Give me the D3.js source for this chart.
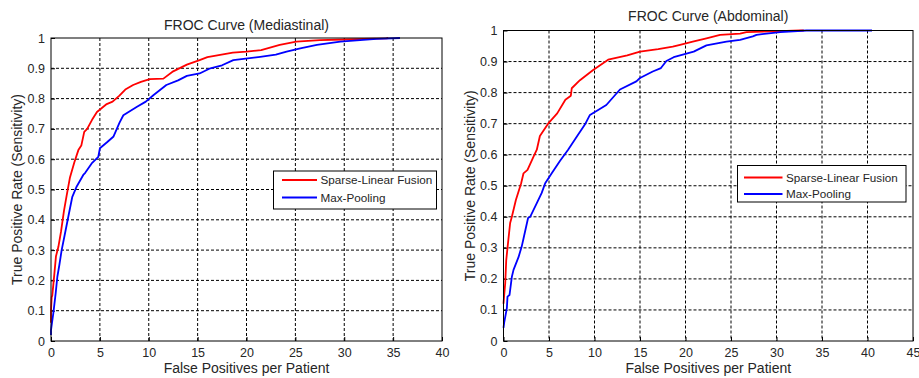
<!DOCTYPE html>
<html>
<head>
<meta charset="utf-8">
<script src="https://cdn.jsdelivr.net/npm/d3@7"></script>
<style>
    body { margin: 0; background: white; }
    text { font-family: "Liberation Sans", Arial, sans-serif; fill: #262626; }
</style>
</head>
<body>
<div id="chart"></div>
<script>
'use strict';

// Mediastinal panel: [false positives per patient, sensitivity]
var medFusion = [[0,0.06],[0,0.1],[0.07,0.145],[0.13,0.15],[0.31,0.21],[0.51,0.28],[0.75,0.31],[1.02,0.36],
    [1.33,0.43],[1.6,0.48],[1.94,0.54],[2.39,0.59],[2.8,0.63],[3.1,0.645],[3.4,0.69],[3.7,0.70],[4.2,0.73],
    [4.7,0.756],[5.7,0.782],[6.3,0.79],[7.0,0.81],[7.6,0.83],[8.4,0.845],[9.2,0.855],[10.1,0.864],[11.5,0.866],
    [12.5,0.89],[13.9,0.912],[15.2,0.927],[16,0.937],[18.6,0.952],[20,0.955],[21.5,0.96],[23.4,0.977],
    [25.1,0.988],[27.5,0.993],[30,0.995],[32,0.997],[34.3,0.999],[34.5,1.0]];
var medMaxPool = [[0,0.02],[0,0.036],[0.1,0.06],[0.24,0.092],[0.48,0.158],[0.65,0.212],[0.85,0.25],[1.09,0.30],
    [1.4,0.35],[1.77,0.41],[2.18,0.476],[2.63,0.51],[3.3,0.548],[3.5,0.555],[4.16,0.586],[4.84,0.608],[5.0,0.636],
    [5.7,0.655],[6.4,0.675],[7.0,0.72],[7.4,0.745],[8.8,0.773],[9.7,0.79],[10.5,0.812],[11.8,0.845],[13,0.86],
    [13.9,0.875],[15.2,0.883],[16.3,0.90],[17.5,0.91],[18.65,0.927],[21.4,0.938],[23.0,0.945],[24.1,0.955],
    [25.5,0.966],[27.2,0.977],[29.6,0.988],[33.3,0.997],[35.7,1.0]];

// Abdominal panel
var abdFusion = [[0,0.12],[0.08,0.15],[0.19,0.186],[0.3,0.26],[0.44,0.30],[0.73,0.38],[0.92,0.40],[1.36,0.454],
    [1.94,0.508],[2.2,0.54],[2.64,0.551],[3.3,0.594],[3.66,0.616],[4.0,0.66],[4.9,0.70],[5.9,0.733],[6.8,0.777],
    [7.4,0.79],[7.5,0.814],[8.4,0.84],[9.85,0.873],[11.5,0.906],[13.6,0.92],[15.0,0.932],[17,0.94],[18.6,0.948],
    [19.4,0.954],[20.8,0.964],[22.3,0.975],[23.8,0.986],[26,0.99],[26.7,0.995],[29.6,0.997],[32.6,1.0],[33,1.0]];
var abdMaxPool = [[0,0.042],[0.08,0.06],[0.37,0.106],[0.44,0.143],[0.66,0.148],[0.92,0.207],[1.1,0.229],
    [1.65,0.27],[2.0,0.304],[2.2,0.33],[2.7,0.396],[2.93,0.40],[3.66,0.444],[4.2,0.477],[4.58,0.508],[5.3,0.54],
    [6.2,0.58],[7.1,0.616],[8.1,0.66],[9.0,0.70],[9.5,0.728],[11.3,0.76],[12.8,0.81],[14.6,0.836],[15.0,0.847],
    [16.4,0.868],[17.3,0.879],[17.9,0.902],[18.7,0.914],[20.9,0.932],[22.3,0.952],[24.5,0.964],[26,0.97],
    [27.4,0.981],[27.8,0.986],[30.4,0.995],[33.3,1.0],[40.5,1.0]];

var seriesNames = ["Sparse-Linear Fusion", "Max-Pooling"];
var seriesColors = ["#ff0000", "#0000ff"];
var yTicks = [0, 0.1, 0.2, 0.3, 0.4, 0.5, 0.6, 0.7, 0.8, 0.9, 1];
var medXTicks = [0, 5, 10, 15, 20, 25, 30, 35, 40];
var abdXTicks = [0, 5, 10, 15, 20, 25, 30, 35, 40, 45];

var svg = d3.select("#chart").append("svg")
    .attr("width", 919).attr("height", 378);

svg.append("rect").attr("x", 0).attr("y", 0).attr("width", 919).attr("height", 378).attr("fill", "white");

drawPanel(svg, {
    title: "FROC Curve (Mediastinal)",
    left: 51, right: 442, top: 38, bottom: 341, titleY: 29.5,
    xTicks: medXTicks, series: [medFusion, medMaxPool],
    legend: {x: 273.5, y: 171, w: 163, h: 38, row1: 180, row2: 197.5, lx1: 282, lx2: 317}
});
drawPanel(svg, {
    title: "FROC Curve (Abdominal)",
    left: 503.5, right: 913, top: 30.5, bottom: 341, titleY: 20.5,
    xTicks: abdXTicks, series: [abdFusion, abdMaxPool],
    legend: {x: 737.5, y: 165.5, w: 168.5, h: 36.5, row1: 177.5, row2: 194, lx1: 744, lx2: 782.5}
});

function drawPanel(svg, o) {
    var xMax = o.xTicks[o.xTicks.length - 1];
    var x = d3.scaleLinear().domain([0, xMax]).range([o.left, o.right]);
    var y = d3.scaleLinear().domain([0, 1]).range([o.bottom, o.top]);
    var g = svg.append("g");

    // dotted grid
    g.append("g").selectAll("line").data(o.xTicks.slice(1, -1)).enter().append("line")
        .attr("x1", function(d) { return x(d); }).attr("x2", function(d) { return x(d); })
        .attr("y1", o.top).attr("y2", o.bottom)
        .attr("stroke", "#000").attr("stroke-width", 1).attr("stroke-dasharray", "3,2");
    g.append("g").selectAll("line").data(yTicks.slice(1, -1)).enter().append("line")
        .attr("x1", o.left).attr("x2", o.right)
        .attr("y1", function(d) { return y(d); }).attr("y2", function(d) { return y(d); })
        .attr("stroke", "#000").attr("stroke-width", 1).attr("stroke-dasharray", "3,2");

    // axes (tick labels), ticks point inward
    var xAxis = g.append("g").attr("transform", "translate(0," + o.bottom + ")")
        .call(d3.axisBottom(x).tickValues(o.xTicks).tickSize(-4).tickPadding(7).tickFormat(d3.format("d")));
    var yAxis = g.append("g").attr("transform", "translate(" + o.left + ",0)")
        .call(d3.axisLeft(y).tickValues(yTicks).tickSize(-4).tickPadding(6).tickFormat(function(d) { return d === 0 || d === 1 ? d : d.toFixed(1); }));
    [xAxis, yAxis].forEach(function(a) {
        a.select(".domain").remove();
        a.selectAll("line").attr("stroke", "#000");
        a.selectAll("text").attr("font-size", "12.5px").attr("font-family", "Liberation Sans, Arial, sans-serif").attr("fill", "#262626");
    });

    // curves
    var line = d3.line().x(function(d) { return x(d[0]); }).y(function(d) { return y(d[1]); });
    o.series.forEach(function(s, i) {
        g.append("path").datum(s).attr("d", line)
            .attr("fill", "none").attr("stroke", seriesColors[i]).attr("stroke-width", 1.8)
            .attr("stroke-linejoin", "round");
    });

    // box
    g.append("rect").attr("x", o.left).attr("y", o.top)
        .attr("width", o.right - o.left).attr("height", o.bottom - o.top)
        .attr("fill", "none").attr("stroke", "#000").attr("stroke-width", 1);

    // labels
    g.append("text").text(o.title)
        .attr("x", (o.left + o.right) / 2).attr("y", o.titleY)
        .attr("text-anchor", "middle").attr("font-size", "14px");
    g.append("text").text("False Positives per Patient")
        .attr("x", (o.left + o.right) / 2).attr("y", 373)
        .attr("text-anchor", "middle").attr("font-size", "14px");
    g.append("text").text("True Positive Rate (Sensitivity)")
        .attr("transform", "translate(" + (o.left - 29) + "," + ((o.top + o.bottom) / 2) + ") rotate(-90)")
        .attr("text-anchor", "middle").attr("font-size", "14px");

    // legend
    var L = o.legend;
    g.append("rect").attr("x", L.x).attr("y", L.y).attr("width", L.w).attr("height", L.h)
        .attr("fill", "white").attr("stroke", "#000").attr("stroke-width", 1);
    [L.row1, L.row2].forEach(function(ry, i) {
        g.append("line").attr("x1", L.lx1).attr("x2", L.lx2).attr("y1", ry).attr("y2", ry)
            .attr("stroke", seriesColors[i]).attr("stroke-width", 1.8);
        g.append("text").text(seriesNames[i])
            .attr("x", L.lx2 + 3.5).attr("y", ry + 4.3)
            .attr("font-size", "11.7px");
    });
}
</script>
</body>
</html>
